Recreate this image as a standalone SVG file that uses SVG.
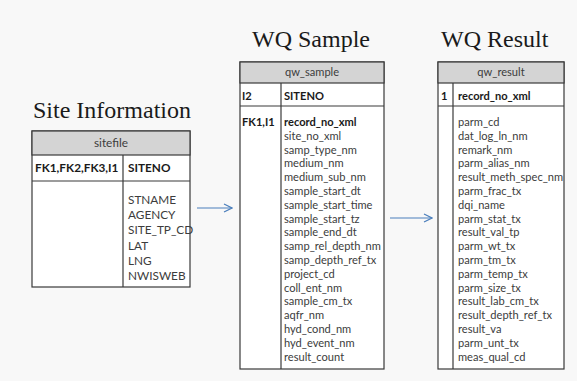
<svg xmlns="http://www.w3.org/2000/svg" width="577" height="381" viewBox="0 0 577 381">
  <style>
    .title { font-family: "Liberation Serif", serif; font-size: 24px; fill: #1a1a1a; }
    .tbl { fill: #ffffff; stroke: #3a3a3a; stroke-width: 1.2; }
    .hdr { fill: #d4d4d4; stroke: #3a3a3a; stroke-width: 1.2; }
    .sep { stroke: #3a3a3a; stroke-width: 1.2; fill: none; }
    .t { font-family: Lato, "Liberation Sans", sans-serif; font-size: 11.1px; fill: #3c3c3c; }
    .b { font-weight: bold; fill: #1a1a1a; }
    .c { text-anchor: middle; }
    .site { font-size: 11.8px; }
    .conn { stroke: #4a7ebb; stroke-width: 1.2; fill: none; }
  </style>
  <defs>
    <marker id="open" viewBox="0 0 10 10" refX="9" refY="5" markerWidth="10" markerHeight="10" markerUnits="userSpaceOnUse" orient="auto">
      <path d="M1,1 L9,5 L1,9" fill="none" stroke="#4a7ebb" stroke-width="1.2"/>
    </marker>
  </defs>

  <rect width="577" height="381" fill="#f8f8f8"/>

  <!-- Site Information: sitefile -->
  <g id="sitefile">
    <text class="title" x="33" y="118" font-size="25.5">Site Information</text>
    <rect class="tbl" x="32" y="131" width="158" height="156"/>
    <rect class="hdr" x="32" y="131" width="158" height="24"/>
    <line class="sep" x1="32" y1="181" x2="190" y2="181"/>
    <line class="sep" x1="123" y1="155" x2="123" y2="287"/>
    <text class="t site c" x="111" y="147">sitefile</text>
    <text class="t site b" x="35" y="172" font-size="11.9">FK1,FK2,FK3,I1</text>
    <text class="t site b" x="128" y="172">SITENO</text>
    <text class="t site" x="128" y="204">STNAME</text>
    <text class="t site" x="128" y="219">AGENCY</text>
    <text class="t site" x="128" y="234">SITE_TP_CD</text>
    <text class="t site" x="128" y="250">LAT</text>
    <text class="t site" x="128" y="265">LNG</text>
    <text class="t site" x="128" y="280">NWISWEB</text>
  </g>

  <!-- WQ Sample: qw_sample -->
  <g id="qw_sample">
    <text class="title" x="252" y="47">WQ Sample</text>
    <rect class="tbl" x="240" y="62" width="144" height="307"/>
    <rect class="hdr" x="240" y="62" width="144" height="21"/>
    <line class="sep" x1="240" y1="106" x2="384" y2="106"/>
    <line class="sep" x1="281" y1="83" x2="281" y2="369"/>
    <text class="t c" x="312" y="76">qw_sample</text>
    <text class="t b" x="242" y="100">I2</text>
    <text class="t b" x="284" y="100">SITENO</text>
    <text class="t b" x="242" y="126">FK1,I1</text>
    <text class="t b" x="284" y="126">record_no_xml</text>
    <text class="t" x="284" y="139.8">site_no_xml</text>
    <text class="t" x="284" y="153.6">samp_type_nm</text>
    <text class="t" x="284" y="167.4">medium_nm</text>
    <text class="t" x="284" y="181.2">medium_sub_nm</text>
    <text class="t" x="284" y="195">sample_start_dt</text>
    <text class="t" x="284" y="208.8">sample_start_time</text>
    <text class="t" x="284" y="222.6">sample_start_tz</text>
    <text class="t" x="284" y="236.4">sample_end_dt</text>
    <text class="t" x="284" y="250.2">samp_rel_depth_nm</text>
    <text class="t" x="284" y="264">samp_depth_ref_tx</text>
    <text class="t" x="284" y="277.8">project_cd</text>
    <text class="t" x="284" y="291.6">coll_ent_nm</text>
    <text class="t" x="284" y="305.4">sample_cm_tx</text>
    <text class="t" x="284" y="319.2">aqfr_nm</text>
    <text class="t" x="284" y="333">hyd_cond_nm</text>
    <text class="t" x="284" y="346.8">hyd_event_nm</text>
    <text class="t" x="284" y="360.6">result_count</text>
  </g>

  <!-- WQ Result: qw_result -->
  <g id="qw_result">
    <text class="title" x="441" y="47">WQ Result</text>
    <rect class="tbl" x="438" y="62" width="126" height="307"/>
    <rect class="hdr" x="438" y="62" width="126" height="21"/>
    <line class="sep" x1="438" y1="106" x2="564" y2="106"/>
    <line class="sep" x1="453" y1="83" x2="453" y2="369"/>
    <text class="t c" x="501" y="76">qw_result</text>
    <text class="t b" x="441" y="100">1</text>
    <text class="t b" x="458" y="100">record_no_xml</text>
    <text class="t" x="458" y="126">parm_cd</text>
    <text class="t" x="458" y="139.8">dat_log_ln_nm</text>
    <text class="t" x="458" y="153.6">remark_nm</text>
    <text class="t" x="458" y="167.4">parm_alias_nm</text>
    <text class="t" x="458" y="181.2">result_meth_spec_nm</text>
    <text class="t" x="458" y="195">parm_frac_tx</text>
    <text class="t" x="458" y="208.8">dqi_name</text>
    <text class="t" x="458" y="222.6">parm_stat_tx</text>
    <text class="t" x="458" y="236.4">result_val_tp</text>
    <text class="t" x="458" y="250.2">parm_wt_tx</text>
    <text class="t" x="458" y="264">parm_tm_tx</text>
    <text class="t" x="458" y="277.8">parm_temp_tx</text>
    <text class="t" x="458" y="291.6">parm_size_tx</text>
    <text class="t" x="458" y="305.4">result_lab_cm_tx</text>
    <text class="t" x="458" y="319.2">result_depth_ref_tx</text>
    <text class="t" x="458" y="333">result_va</text>
    <text class="t" x="458" y="346.8">parm_unt_tx</text>
    <text class="t" x="458" y="360.6">meas_qual_cd</text>
  </g>

  <!-- Connectors -->
  <g id="connectors">
    <line class="conn" x1="197" y1="208" x2="232" y2="208" marker-end="url(#open)"/>
    <line class="conn" x1="390" y1="218" x2="432" y2="218" marker-end="url(#open)"/>
  </g>
</svg>
